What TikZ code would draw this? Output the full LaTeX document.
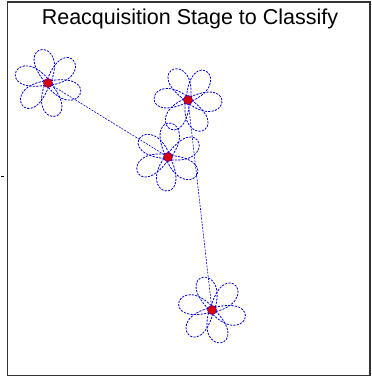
\documentclass[tikz,border=0pt]{standalone}
\usepackage{fontspec}
\setmainfont{Liberation Sans}
\usetikzlibrary{calc}
\tikzset{
  px/.style={x=1pt,y=-1pt},
  vtx/.style={circle,fill=red!85!black,draw=blue!60!red,line width=0.6pt,minimum size=9pt,inner sep=0pt},
  edge/.style={blue!85!black,dash pattern=on 2pt off 1.2pt,line width=0.6pt},
  petal/.style={blue!85!black,dash pattern=on 2.2pt off 1.2pt,line width=0.8pt},
}
\newcommand{\petals}[2]{%
  \foreach \k in {0,...,5}{%
    \pgfmathsetmacro{\ang}{#2+60*\k}%
    \draw[petal] ($(#1)+(\ang+180:4)$) .. controls +(\ang-28:64) and +(\ang+40:58) .. ($(#1)+(\ang+180:4)$);
  }%
}
\begin{document}
\begin{tikzpicture}[px]
\useasboundingbox (0,0) rectangle (371,379);
\draw[line width=1.3pt,black!80] (7.5,2) rectangle (370,375.5);
\node[font=\fontsize{21.5}{24}\selectfont] (title) at (190,18.5) {Reacquisition Stage to Classify};
\coordinate (A) at (48,83);
\coordinate (B) at (188,100);
\coordinate (C) at (168,157);
\coordinate (D) at (212,310);
\draw[edge] (A) -- (C);
\draw[edge] (B) -- (D);
\petals{A}{15}
\petals{B}{0}
\petals{C}{30}
\petals{D}{10}
\node[vtx] (a) at (A) {};
\node[vtx] (b) at (B) {};
\node[vtx] (c) at (C) {};
\node[vtx] (d) at (D) {};
\draw[black,line width=0.8pt] (1,176) -- (4,176);
\end{tikzpicture}
\end{document}
